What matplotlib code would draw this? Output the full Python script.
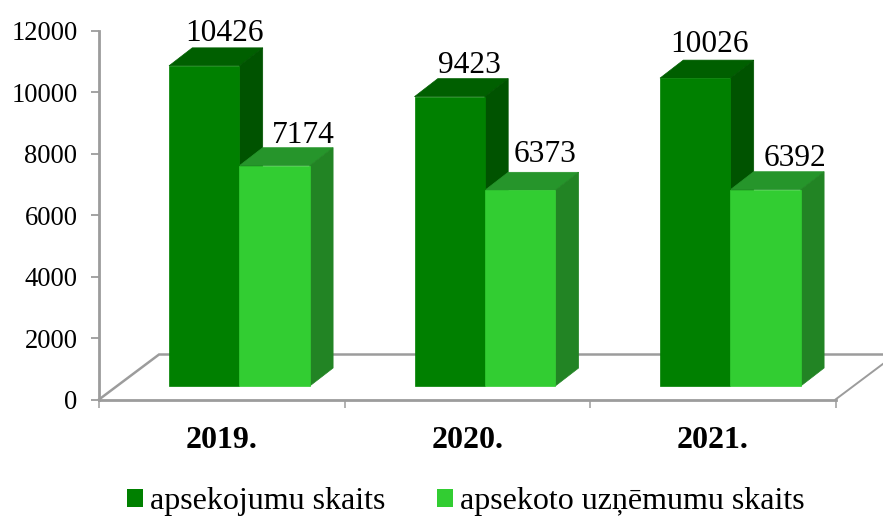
import matplotlib
matplotlib.use("Agg")
import matplotlib.pyplot as plt
from matplotlib.patches import Polygon, Patch

plt.rcParams['font.family'] = ['Liberation Serif', 'DejaVu Serif']

categories = ['2019.', '2020.', '2021.']
series_names = ['apsekojumu skaits', 'apsekoto uzņēmumu skaits']
inspections = [10426, 9423, 10026]
companies = [7174, 6373, 6392]
y_ticks = [0, 2000, 4000, 6000, 8000, 10000, 12000]

W, H = 883, 516
fig = plt.figure(figsize=(W / 100, H / 100), dpi=100)
L, R, B, T = 99, 835.5, 399.5, 31
ax = fig.add_axes([L / W, 1 - B / H, (R - L) / W, (B - T) / H])
ax.set_xlim(0, 3)
ax.set_ylim(0, 12000)
ax.patch.set_visible(False)

px = 3 / (R - L)          # x data units per pixel
py = 12000 / (B - T)      # y data units per pixel

GREY = '#9c9c9c'
for s in ['top', 'right']:
    ax.spines[s].set_visible(False)
for s in ['left', 'bottom']:
    ax.spines[s].set_color(GREY)
    ax.spines[s].set_linewidth(2.0)

# floor
fdx, fdy = 60 * px, 45 * py
ax.plot([0, fdx, 3 + fdx], [0, fdy, fdy], color=GREY, lw=1.8, clip_on=False, zorder=1,
        solid_joinstyle='miter')
ax.plot([3, 3 + fdx], [0, fdy], color=GREY, lw=1.4, clip_on=False, zorder=1)

ax.set_yticks(y_ticks)
ax.set_yticklabels([str(v) for v in y_ticks], fontsize=19.2)
ax.tick_params(axis='y', length=6, width=1.3, color=GREY, pad=9.5)
ax.set_xticks([0, 1, 2, 3])
ax.set_xticklabels([])
ax.tick_params(axis='x', length=6, width=1.1, color=GREY)
ax.set_xticks([0.5, 1.5, 2.5], labels=categories, minor=True, fontsize=23, fontweight='bold')
ax.tick_params(axis='x', which='minor', length=0, pad=19)

# bar geometry
bw = 70.4 * px
x0 = 70 * px
by = 13.5 * py
ddx, ddy = 23.3 * px, 18 * py


def bar3d(left, value, front, top, side):
    base = by
    h = base + value
    r = left + bw
    ax.add_patch(Polygon([(left, h), (r, h), (r + ddx, h + ddy), (left + ddx, h + ddy)],
                         closed=True, facecolor=top, edgecolor=top, lw=0.5, clip_on=False, zorder=3))
    ax.add_patch(Polygon([(r, base), (r + ddx, base + ddy), (r + ddx, h + ddy), (r, h)],
                         closed=True, facecolor=side, edgecolor=side, lw=0.5, clip_on=False, zorder=3))
    ax.add_patch(Polygon([(left, base), (r, base), (r, h), (left, h)],
                         closed=True, facecolor=front, edgecolor=front, lw=0.5,
                         clip_on=False, zorder=4))


DARK, LIGHT = '#008000', '#32CD32'
label_dark_dx = [20.5, 20, 14]
label_dark_dy = [7, 6, 8]
label_light_dx = [29, 25, 29]
label_light_dy = [5, 10, 6]

for i, (a, b) in enumerate(zip(inspections, companies)):
    left = i + x0
    bar3d(left, a, DARK, '#005f00', '#005300')
    bar3d(left + bw, b, LIGHT, '#26952b', '#228424')
    for value, lx, dx, dy in [(a, left, label_dark_dx[i], label_dark_dy[i]),
                              (b, left + bw, label_light_dx[i], label_light_dy[i])]:
        ax.annotate(str(value), (lx + bw / 2, by + value + ddy),
                    xytext=(dx * 0.72, dy * 0.72), textcoords='offset points',
                    ha='center', va='baseline', fontsize=22.6, color='black',
                    annotation_clip=False, zorder=6)

handles = [Patch(facecolor=DARK, label=series_names[0]), Patch(facecolor=LIGHT, label=series_names[1])]
fig.legend(handles=handles, loc='center', bbox_to_anchor=(466 / W, 1 - 501.5 / H), ncol=2, frameon=False,
           fontsize=23, handlelength=0.5, handleheight=0.5, handletextpad=0.22, columnspacing=1.6,
           borderpad=0, borderaxespad=0)

fig.savefig('out.png', dpi=100)
